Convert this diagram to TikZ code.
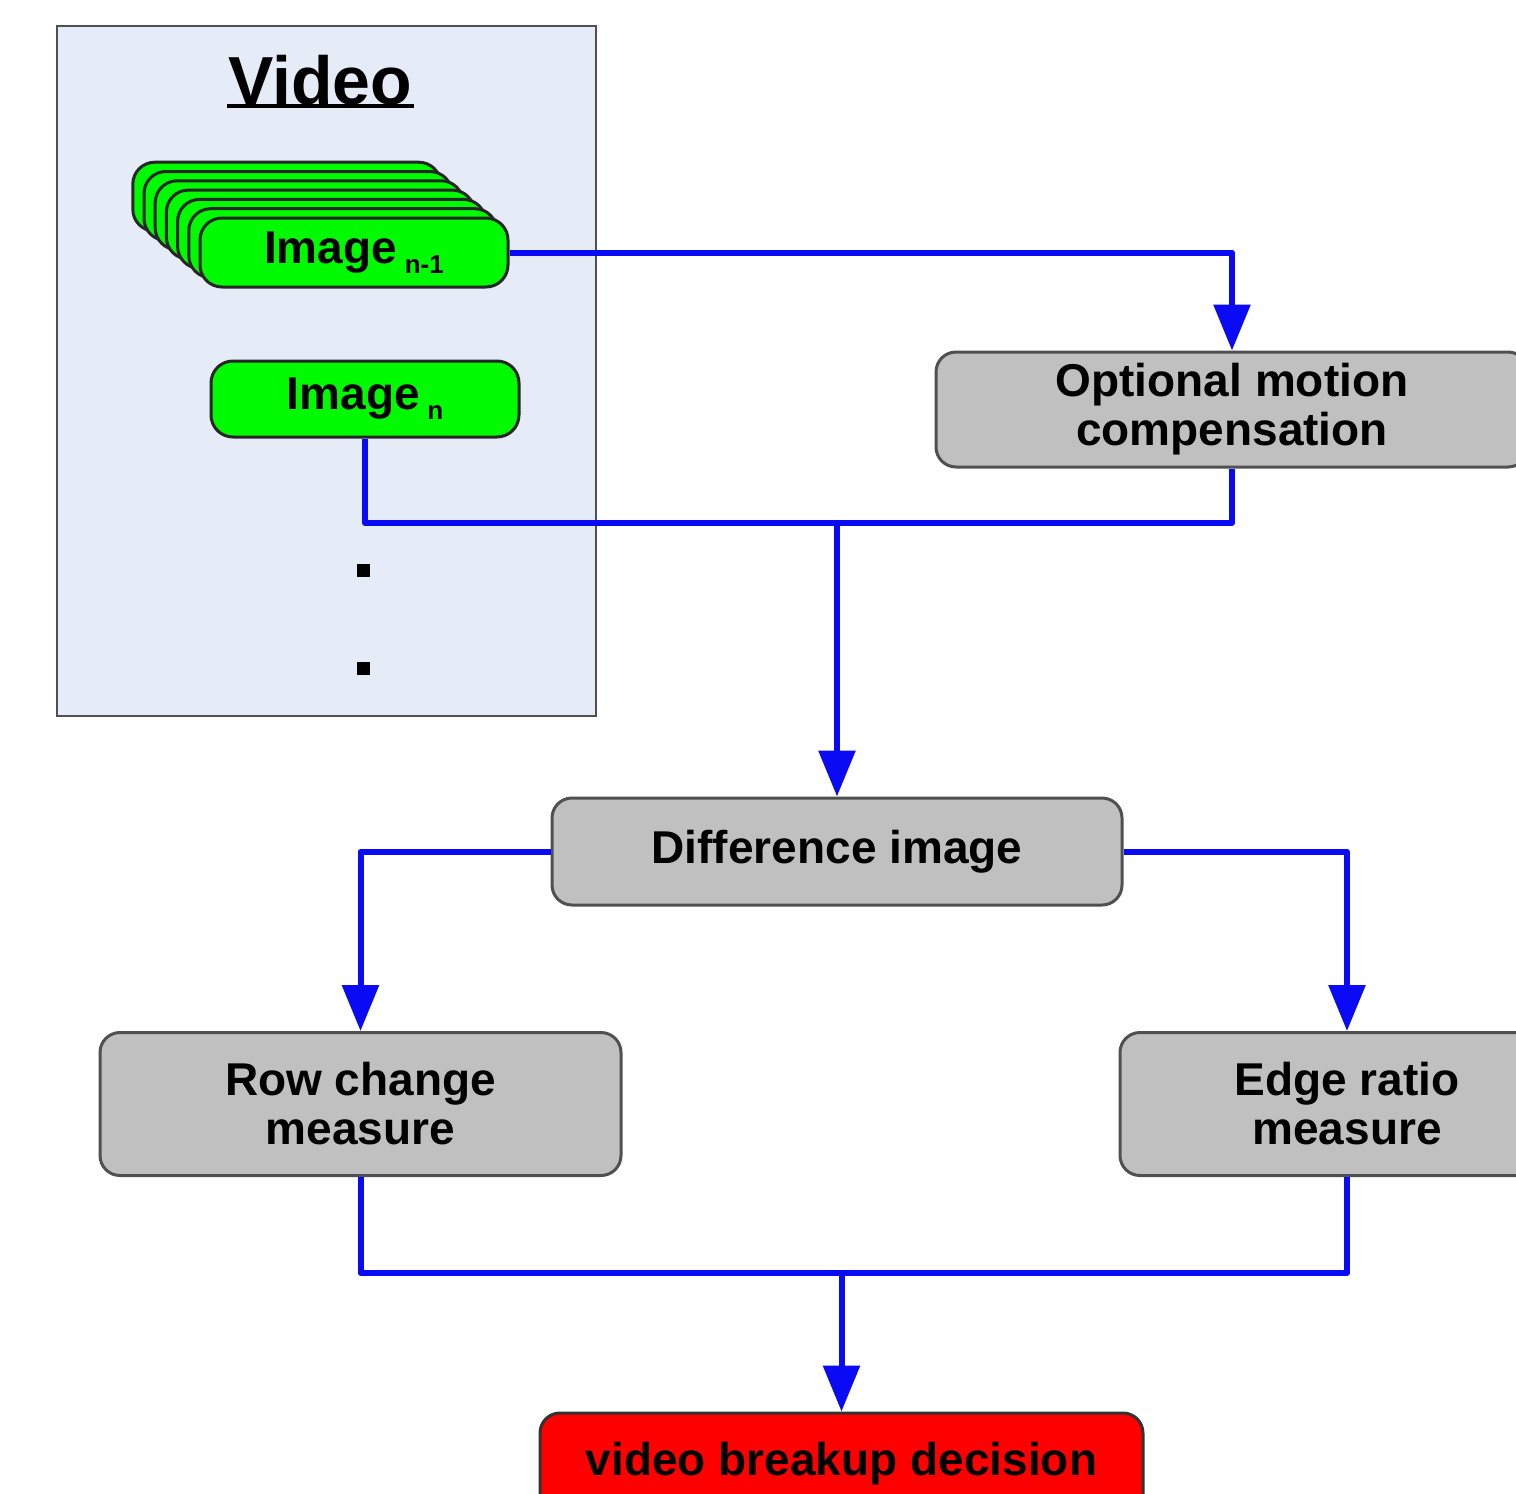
\documentclass[tikz,border=0pt]{standalone}
\usepackage{fontspec}
\setmainfont{Liberation Sans}
\usetikzlibrary{arrows.meta}
\definecolor{panel}{RGB}{230,236,247}
\definecolor{boxgray}{RGB}{192,192,192}
\definecolor{boxline}{RGB}{80,80,80}
\definecolor{flowblue}{RGB}{10,10,245}
\definecolor{imggreen}{RGB}{0,250,0}
\definecolor{decred}{RGB}{255,0,0}
\begin{document}
\begin{tikzpicture}[x=0.5pt,y=-0.5pt,
  txt/.style={font=\bfseries\fontsize{23}{24.5}\selectfont, align=center},
  box/.style={txt, draw=boxline, line width=1.5pt, rounded corners=10pt, fill=boxgray, inner sep=0pt},
  imgbox/.style={box, fill=imggreen, draw=black!85, rounded corners=11pt, minimum width=154pt},
  flow/.style={draw=flowblue, line width=3pt, line join=round},
  arr/.style={flow, -{Triangle[length=23pt,width=18pt]}}]
\useasboundingbox (0,0) rectangle (1516,1494);
\clip (0,0) rectangle (1516,1494);
\fill[white] (0,0) rectangle (1516,1494);
% video panel
\node[draw=boxline, line width=1.2pt, fill=panel, minimum width=269.5pt, minimum height=345pt, inner sep=0pt] (panel) at (326.5,371) {};
\node[font=\bfseries\fontsize{34}{34}\selectfont, inner sep=0pt] (vtitle) at (320,80) {Video};
\draw[line width=2.2pt] (227,106) -- (414,106);
% image stack
\foreach \k in {6,5,...,1}{
  \node[imgbox, minimum height=34.5pt] (stack\k) at ({354-11.2*\k},{252.5-9.3*\k}) {};
}
\node[imgbox, minimum height=34.5pt] (img1) at (354,252.5) {Image\,\raisebox{-5pt}{\fontsize{13}{13}\selectfont n-1}};
\node[imgbox, minimum height=38pt] (imgn) at (365,399) {Image\,\raisebox{-5pt}{\fontsize{13}{13}\selectfont n}};
% dots
\node[fill=black, minimum size=6.5pt, inner sep=0pt] (dot1) at (363,570) {};
\node[fill=black, minimum size=6.5pt, inner sep=0pt] (dot2) at (363,668) {};
% process boxes
\node[box, minimum width=296pt, minimum height=57.5pt] (omc) at (1232,409.5) {Optional motion\\compensation};
\node[box, minimum width=285pt, minimum height=53.5pt] (diff) at (837,851.5) {Difference image};
\node[box, minimum width=260.5pt, minimum height=71.5pt] (row) at (360.5,1104) {Row change\\measure};
\node[box, minimum width=227pt, minimum height=71.5pt] (edge) at (1347,1104) {Edge ratio\\measure};
\node[box, fill=decred, draw=black!80, minimum width=301.5pt, minimum height=51pt] (dec) at (841.5,1464) {video breakup decision};
% connectors
\coordinate (j1) at (837,523);
\coordinate (j2) at (841.5,1273);
\draw[arr] (img1.east) -| (omc.north);
\draw[flow] (imgn.south) |- (j1);
\draw[flow] (omc.south) |- (j1);
\draw[arr] (j1) -- (diff.north);
\draw[arr] (diff.west) -| (row.north);
\draw[arr] (diff.east) -| (edge.north);
\draw[flow] (row.south) |- (j2);
\draw[flow] (edge.south) |- (j2);
\draw[arr] (j2) -- (dec.north);
\end{tikzpicture}
\end{document}
